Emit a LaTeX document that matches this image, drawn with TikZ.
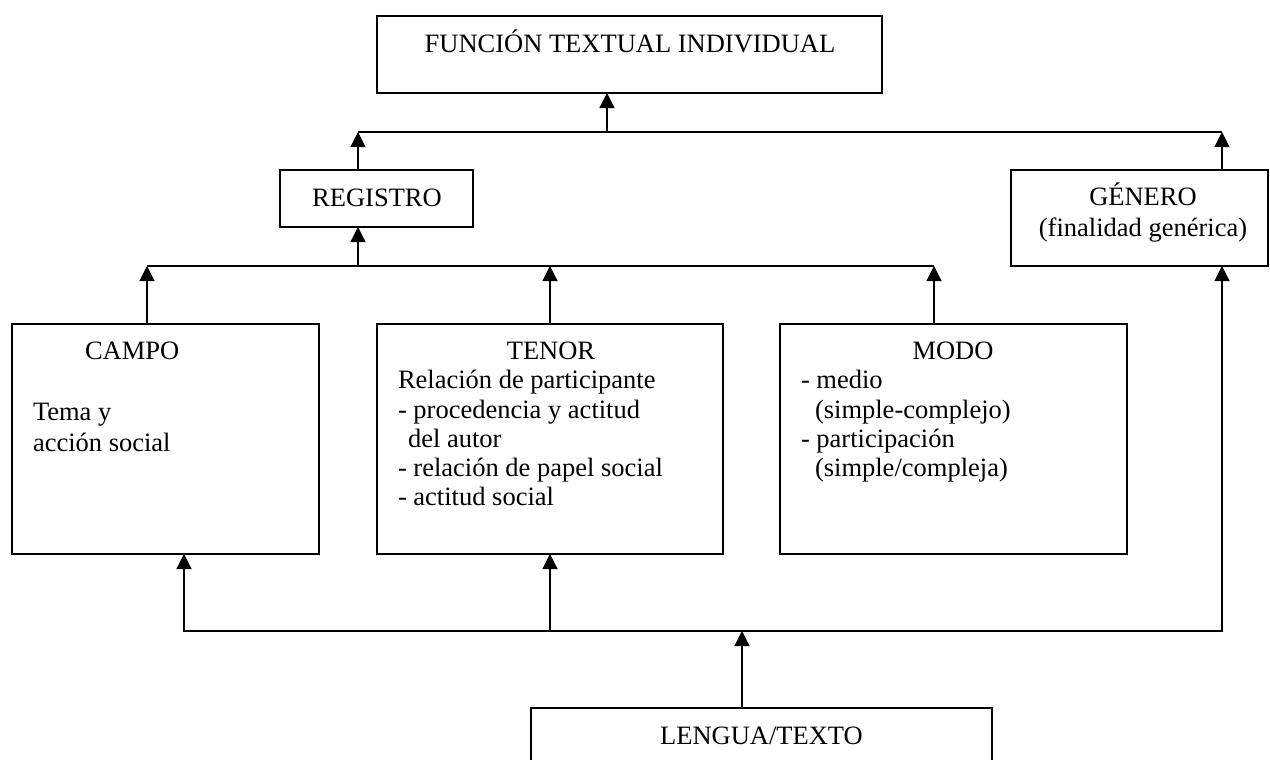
\documentclass[tikz,border=0pt]{standalone}
\usepackage{fontspec}
\setmainfont{Liberation Serif}
\usetikzlibrary{arrows.meta}
\begin{document}
\begin{tikzpicture}[x=0.5pt,y=-0.5pt,
  box/.style={draw=black, line width=0.65pt, rectangle, inner sep=0pt, outer sep=0pt},
  txt/.style={inner sep=0pt, outer sep=0pt, font=\fontsize{13.25pt}{15pt}\selectfont},
  conn/.style={draw=black, line width=0.6pt},
  arr/.style={conn, -{Triangle[length=7.5pt,width=7.5pt]}},
  arrboth/.style={conn, {Triangle[length=7.5pt,width=7.5pt]}-{Triangle[length=7.5pt,width=7.5pt]}}]
\clip (0,0) rectangle (1270,760);
\fill[white] (0,0) rectangle (1270,760);
% boxes
\node[box, minimum width=252.5pt, minimum height=38.5pt] (fti) at (629.5,54.5) {};
\node[box, minimum width=96.5pt, minimum height=28.5pt] (reg) at (376.5,198.5) {};
\node[box, minimum width=128.5pt, minimum height=48pt] (gen) at (1139.5,218) {};
\node[box, minimum width=153.5pt, minimum height=115pt] (campo) at (165.5,439) {};
\node[box, minimum width=173pt, minimum height=115pt] (tenor) at (550,439) {};
\node[box, minimum width=173.5pt, minimum height=115pt] (modo) at (953.5,439) {};
\node[box, minimum width=230.5pt, minimum height=41pt] (lengua) at (761.5,749) {};
% texts
\node[txt, anchor=base] (tfti) at (630,52) {FUNCIÓN TEXTUAL INDIVIDUAL};
\node[txt, anchor=base] (treg) at (377,206) {REGISTRO};
\node[txt, anchor=base] (tgen1) at (1143,205) {GÉNERO};
\node[txt, anchor=base] (tgen2) at (1143,236) {(finalidad genérica)};
\node[txt, anchor=base west] (tcampo) at (85,359) {CAMPO};
\node[txt, anchor=base west] (tcampo1) at (33,420) {Tema y};
\node[txt, anchor=base west] (tcampo2) at (33,451) {acción social};
\node[txt, anchor=base] (ttenor) at (551,359) {TENOR};
\node[txt, anchor=base west] (ttenor1) at (398,388) {Relación de participante};
\node[txt, anchor=base west] (ttenor2) at (398,418) {- procedencia y actitud};
\node[txt, anchor=base west] (ttenor3) at (408,447) {del autor};
\node[txt, anchor=base west] (ttenor4) at (398,476) {- relación de papel social};
\node[txt, anchor=base west] (ttenor5) at (398,505) {- actitud social};
\node[txt, anchor=base] (tmodo) at (953,359) {MODO};
\node[txt, anchor=base west] (tmodo1) at (801,388) {- medio};
\node[txt, anchor=base west] (tmodo2) at (815,418) {(simple-complejo)};
\node[txt, anchor=base west] (tmodo3) at (801,447) {- participación};
\node[txt, anchor=base west] (tmodo4) at (815,476) {(simple/compleja)};
\node[txt, anchor=base] (tlengua) at (761.5,744) {LENGUA/TEXTO};
% junction coordinates
\coordinate (jA) at (358,132);
\coordinate (jB) at (1222,132);
\coordinate (jT) at (607,132);
\coordinate (kA) at (147,266);
\coordinate (kB) at (934,266);
\coordinate (kR) at (358,266);
\coordinate (mA) at (184,631);
\coordinate (mB) at (1222,631);
\coordinate (mT) at (550,631);
\coordinate (mL) at (742,631);
% top level
\draw[conn] (jA) -- (jB);
\draw[arr] (jT) -- (jT |- fti.south);
\draw[arr] (jA |- reg.north) -- (jA);
\draw[arr] (jB |- gen.north) -- (jB);
% middle level
\draw[conn] (kA) -- (kB);
\draw[arr] (kR) -- (kR |- reg.south);
\draw[arr] (kA |- campo.north) -- (kA);
\draw[arr] (tenor.north) -- (tenor.north |- kA);
\draw[arr] (kB |- modo.north) -- (kB);
% bottom level
\draw[arrboth] (mA |- campo.south) -- (mA) -- (mB) -- (mB |- gen.south);
\draw[arr] (mT) -- (mT |- tenor.south);
\draw[arr] (mL |- lengua.north) -- (mL);
\end{tikzpicture}
\end{document}
